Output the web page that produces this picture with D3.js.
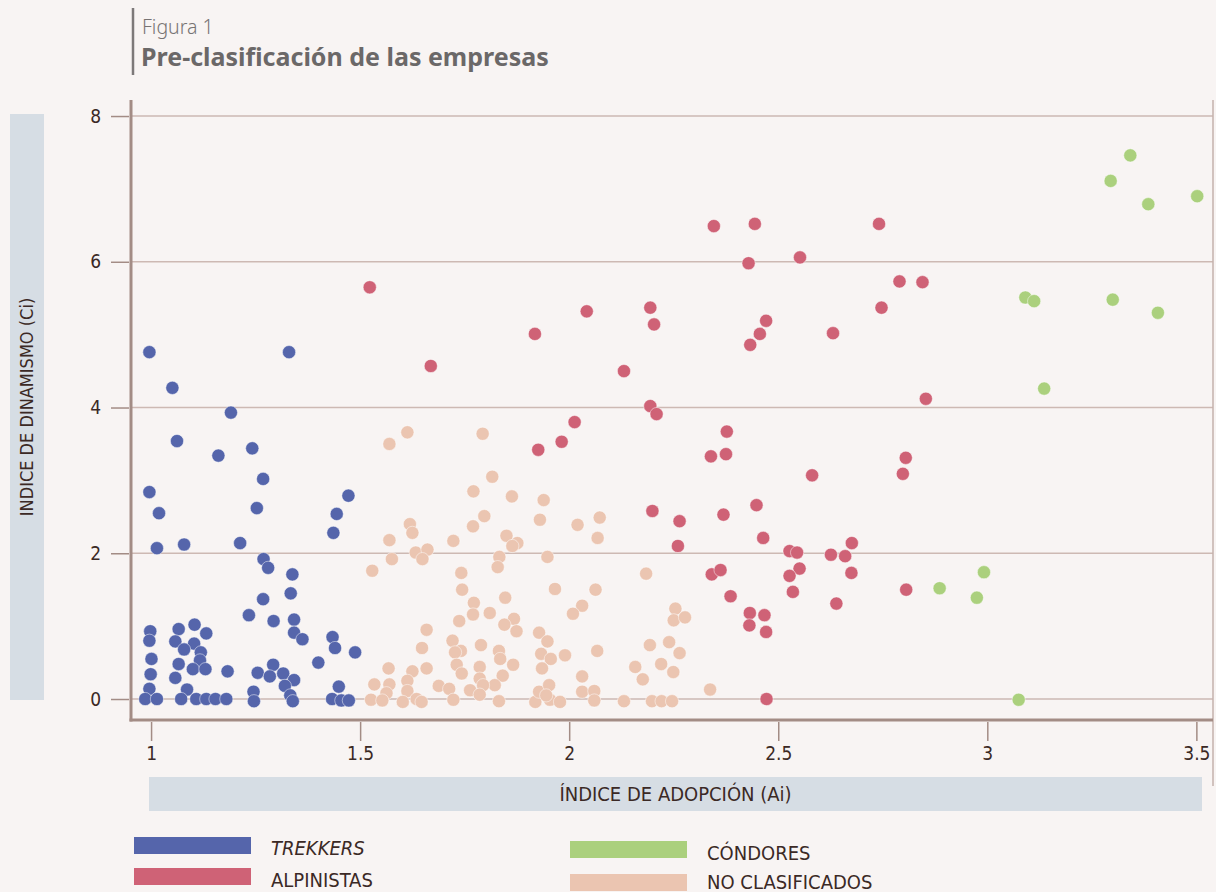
<!DOCTYPE html>
<html>
<head>
<meta charset="utf-8">
<script src="https://cdn.jsdelivr.net/npm/d3@7"></script>
<style>
  html, body { margin: 0; padding: 0; background: #f8f4f3; }
  svg { display: block; }
  .tick text { font-family: "Liberation Sans Narrow", "DejaVu Sans Condensed", "Roboto Condensed", "Liberation Sans", sans-serif; font-stretch: condensed; }
</style>
</head>
<body>
<svg id="chart" width="1216" height="892"></svg>
<script>
// Índice de adopción (Ai) e índice de dinamismo (Ci) por empresa, [Ai, Ci]
const trekkers = [
  [0.996,4.76],[1.33,4.76],[1.051,4.27],[1.191,3.93],[1.062,3.54],[1.161,3.34],[1.242,3.44],
  [1.268,3.02],[0.996,2.84],[1.019,2.55],[1.253,2.62],[1.472,2.79],[1.444,2.54],[1.436,2.28],
  [1.014,2.07],[1.079,2.12],[1.213,2.14],[1.269,1.92],[1.28,1.80],[1.338,1.71],[1.334,1.45],
  [1.268,1.37],[1.234,1.15],[1.293,1.07],[1.342,1.09],[1.342,0.91],[1.362,0.82],[1.434,0.85],
  [1.44,0.70],[1.488,0.64],[1.40,0.50],[0.998,0.93],[0.996,0.80],[1.001,0.55],[0.999,0.34],
  [0.996,0.14],[0.986,0],[1.014,0],[1.066,0.96],[1.104,1.02],[1.132,0.90],[1.058,0.79],
  [1.103,0.76],[1.079,0.68],[1.119,0.64],[1.117,0.53],[1.066,0.48],[1.10,0.41],[1.13,0.41],
  [1.058,0.29],[1.086,0.13],[1.072,0],[1.108,0],[1.132,0],[1.154,0],[1.18,0],[1.183,0.38],
  [1.255,0.36],[1.292,0.47],[1.284,0.31],[1.316,0.35],[1.342,0.26],[1.32,0.18],[1.333,0.05],
  [1.339,-0.03],[1.245,0.10],[1.246,-0.03],[1.449,0.17],[1.433,0],[1.455,-0.02],[1.473,-0.02]
];

const alpinistas = [
  [2.346,6.49],[2.444,6.52],[2.741,6.52],[2.429,5.98],[2.552,6.06],[2.79,5.73],[2.845,5.72],
  [2.747,5.37],[2.194,5.37],[2.203,5.14],[2.471,5.19],[2.456,5.01],[2.433,4.86],[2.631,5.02],
  [2.131,4.50],[2.194,4.02],[2.209,3.91],[2.853,4.12],[2.377,3.67],[2.339,3.33],[2.375,3.36],
  [2.581,3.07],[2.805,3.31],[2.798,3.09],[2.199,2.58],[2.448,2.66],[2.369,2.53],[2.264,2.44],
  [1.523,5.65],[1.669,4.57],[1.918,5.01],[2.042,5.32],[2.013,3.80],[1.926,3.42],[1.982,3.53],
  [2.26,2.10],[2.464,2.21],[2.527,2.03],[2.545,2.01],[2.626,1.98],[2.66,1.96],[2.676,2.14],
  [2.341,1.71],[2.362,1.77],[2.551,1.79],[2.527,1.69],[2.675,1.73],[2.535,1.47],[2.386,1.41],
  [2.806,1.50],[2.639,1.31],[2.432,1.18],[2.467,1.15],[2.431,1.01],[2.471,0.92],[2.472,0.00]
];

const condores = [
  [3.342,7.46],[3.295,7.11],[3.385,6.79],[3.502,6.90],[3.091,5.51],[3.112,5.46],[3.30,5.48],
  [3.408,5.30],[3.136,4.26],[2.886,1.52],[2.992,1.74],[2.975,1.39],[3.075,-0.01]
];

const noClasificados = [
  [1.570,3.50],[1.613,3.66],[1.793,3.64],[1.816,3.05],[1.771,2.85],[1.863,2.78],[1.939,2.73],
  [1.797,2.51],[1.770,2.37],[1.930,2.46],[2.020,2.39],[2.073,2.49],[2.068,2.21],[1.619,2.40],
  [1.625,2.28],[1.570,2.18],[1.723,2.17],[1.850,2.24],[1.876,2.14],[1.864,2.10],[1.633,2.01],
  [1.661,2.05],[1.649,1.92],[1.576,1.92],[1.529,1.76],[1.833,1.95],[1.829,1.81],[1.948,1.95],
  [2.184,1.72],[1.742,1.73],[1.744,1.50],[1.847,1.39],[1.966,1.51],[2.063,1.50],[1.772,1.32],
  [1.770,1.16],[1.810,1.18],[1.737,1.07],[2.031,1.28],[2.009,1.17],[1.868,1.10],[1.845,1.02],
  [1.874,0.93],[2.254,1.24],[2.250,1.08],[2.277,1.12],[1.659,0.95],[1.928,0.91],[1.948,0.79],
  [1.721,0.80],[1.648,0.70],[1.741,0.66],[1.727,0.64],[1.789,0.74],[1.832,0.66],[1.835,0.55],
  [1.933,0.62],[1.956,0.55],[1.990,0.60],[2.067,0.66],[2.193,0.74],[2.239,0.78],[2.264,0.63],
  [1.568,0.42],[1.659,0.42],[1.625,0.38],[1.731,0.47],[1.743,0.35],[1.786,0.44],[1.866,0.47],
  [1.935,0.42],[1.841,0.32],[1.786,0.28],[1.822,0.19],[1.794,0.19],[2.031,0.31],[2.158,0.44],
  [2.176,0.27],[2.220,0.48],[2.249,0.37],[1.534,0.20],[1.570,0.20],[1.613,0.25],[1.613,0.11],
  [1.563,0.08],[1.526,-0.01],[1.553,-0.02],[1.602,-0.04],[1.635,0.00],[1.647,-0.04],[1.688,0.18],
  [1.713,0.14],[1.723,-0.01],[1.763,0.12],[1.786,0.06],[1.832,-0.03],[1.919,-0.04],[1.928,0.10],
  [1.952,0.19],[1.954,-0.01],[1.978,-0.04],[1.945,0.05],[2.031,0.10],[2.060,0.11],[2.060,-0.02],
  [2.131,-0.03],[2.198,-0.03],[2.221,-0.03],[2.246,-0.03],[2.337,0.13]
];

const xTicks = [1, 1.5, 2, 2.5, 3, 3.5];
const yTicks = [0, 2, 4, 6, 8];

const groups = [
  { name: "TREKKERS", italic: true, color: "#5565ab", data: trekkers },
  { name: "ALPINISTAS", italic: false, color: "#cf6276", data: alpinistas },
  { name: "CÓNDORES", italic: false, color: "#abd07d", data: condores },
  { name: "NO CLASIFICADOS", italic: false, color: "#ebc5b1", data: noClasificados }
];

const svg = d3.select("#chart");
const W = 1216, H = 892;
const plot = { left: 131, right: 1213, top: 100, bottom: 720 };
const axisColor = "#a38c85";
const gridColor = "#cdb9b3";
const textColor = "#3b2925";
const condensed = '"Liberation Sans Narrow", "DejaVu Sans Condensed", "Roboto Condensed", "Liberation Sans", sans-serif';

svg.append("rect").attr("width", W).attr("height", H).attr("fill", "#f8f4f3");

const x = d3.scaleLinear().domain([0.952, 3.535]).range([plot.left, plot.right - 2]);
const y = d3.scaleLinear().domain([-0.288, 8.22]).range([plot.bottom, plot.top]);

// Title block
svg.append("line")
  .attr("x1", 133).attr("x2", 133).attr("y1", 8).attr("y2", 75)
  .attr("stroke", "#7d7979").attr("stroke-width", 2.5);
svg.append("text")
  .attr("x", 142).attr("y", 34)
  .attr("font-family", '"Noto Sans", "Open Sans", sans-serif')
  .attr("font-size", 19.5).attr("font-weight", 300).attr("fill", "#777373")
  .text("Figura 1");
svg.append("text")
  .attr("x", 141).attr("y", 66)
  .attr("font-family", '"Noto Sans", "Open Sans", sans-serif')
  .attr("font-size", 25).attr("font-weight", 700).attr("fill", "#6b6868")
  .text("Pre-clasificación de las empresas");

// Horizontal gridlines
svg.append("g")
  .selectAll("line")
  .data(yTicks)
  .join("line")
  .attr("x1", plot.left).attr("x2", plot.right)
  .attr("y1", d => y(d)).attr("y2", d => y(d))
  .attr("stroke", gridColor).attr("stroke-width", 1.5);

// Right frame line
svg.append("line")
  .attr("x1", plot.right).attr("x2", plot.right)
  .attr("y1", plot.top).attr("y2", 786)
  .attr("stroke", "#c4b2ac").attr("stroke-width", 1.5);

// Y axis
const yAxis = svg.append("g")
  .attr("transform", `translate(${plot.left - 2},0)`)
  .call(d3.axisLeft(y).tickValues(yTicks).tickFormat(d3.format("d")).tickSize(18).tickPadding(10).tickSizeOuter(0));
yAxis.select(".domain").remove();
yAxis.selectAll(".tick line").attr("stroke", axisColor).attr("stroke-width", 1.5);
yAxis.selectAll(".tick text").attr("fill", textColor).attr("font-size", 19).attr("font-family", condensed);

// X axis
const xAxis = svg.append("g")
  .attr("transform", `translate(0,${plot.bottom + 2})`)
  .call(d3.axisBottom(x).tickValues(xTicks).tickFormat(d => String(d)).tickSize(19).tickPadding(6).tickSizeOuter(0));
xAxis.select(".domain").remove();
xAxis.selectAll(".tick line").attr("stroke", axisColor).attr("stroke-width", 1.5);
xAxis.selectAll(".tick text").attr("fill", textColor).attr("font-size", 19).attr("font-family", condensed);

// Points
svg.append("g")
  .selectAll("g")
  .data(groups)
  .join("g")
  .attr("fill", d => d.color)
  .selectAll("circle")
  .data(d => d.data)
  .join("circle")
  .attr("cx", d => x(d[0]))
  .attr("cy", d => y(d[1]))
  .attr("r", 6.6)
  .attr("stroke", "#ffffff").attr("stroke-opacity", 0.6).attr("stroke-width", 0.8);

// Axis lines (drawn over the points)
svg.append("line")
  .attr("x1", plot.left).attr("x2", plot.left)
  .attr("y1", plot.top).attr("y2", plot.bottom + 1.5)
  .attr("stroke", axisColor).attr("stroke-width", 3);
svg.append("line")
  .attr("x1", plot.left - 1.5).attr("x2", plot.right)
  .attr("y1", plot.bottom).attr("y2", plot.bottom)
  .attr("stroke", axisColor).attr("stroke-width", 3);

// Axis titles on shaded bands
svg.append("rect").attr("x", 10).attr("y", 114).attr("width", 34).attr("height", 586).attr("fill", "#d6dde4");
svg.append("text")
  .attr("transform", `translate(33,${114 + 586 / 2}) rotate(-90)`)
  .attr("text-anchor", "middle")
  .attr("font-family", condensed).attr("font-size", 18).attr("fill", textColor)
  .text("INDICE DE DINAMISMO (Ci)");

svg.append("rect").attr("x", 149).attr("y", 777).attr("width", 1053).attr("height", 34).attr("fill", "#d6dde4");
svg.append("text")
  .attr("x", 149 + 1053 / 2).attr("y", 801)
  .attr("text-anchor", "middle")
  .attr("font-family", condensed).attr("font-size", 20).attr("fill", textColor)
  .text("ÍNDICE DE ADOPCIÓN (Ai)");

// Legend
const legendPos = [
  { x: 134, y: 837, tx: 271, ty: 855 },
  { x: 134, y: 868, tx: 271, ty: 887 },
  { x: 570, y: 841, tx: 707, ty: 860 },
  { x: 570, y: 874, tx: 707, ty: 889 }
];
const legend = svg.append("g")
  .selectAll("g")
  .data(groups)
  .join("g");
legend.append("rect")
  .attr("x", (d, i) => legendPos[i].x).attr("y", (d, i) => legendPos[i].y)
  .attr("width", 117).attr("height", 17)
  .attr("fill", d => d.color);
legend.append("text")
  .attr("x", (d, i) => legendPos[i].tx).attr("y", (d, i) => legendPos[i].ty)
  .attr("font-family", condensed).attr("font-size", 20).attr("fill", textColor)
  .attr("font-style", d => d.italic ? "italic" : "normal")
  .text(d => d.name);
</script>
</body>
</html>
